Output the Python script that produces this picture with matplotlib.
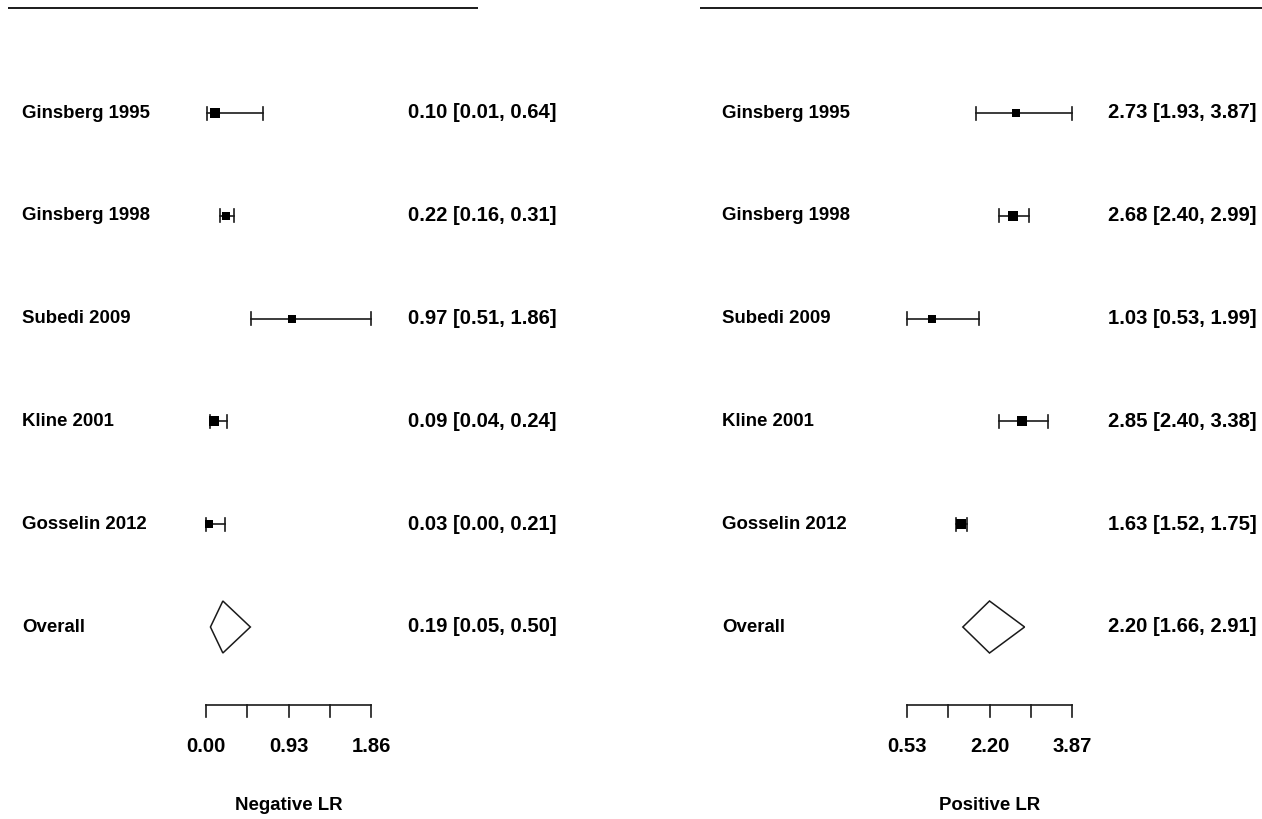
import matplotlib
matplotlib.use("Agg")
import matplotlib.pyplot as plt
import numpy as np

plt.rcParams['font.family'] = ['Liberation Sans', 'DejaVu Sans']

studies = ["Ginsberg 1995", "Ginsberg 1998", "Subedi 2009", "Kline 2001", "Gosselin 2012"]

neg_est = [0.10, 0.22, 0.97, 0.09, 0.03]
neg_lo = [0.01, 0.16, 0.51, 0.04, 0.00]
neg_hi = [0.64, 0.31, 1.86, 0.24, 0.21]
neg_overall = [0.19, 0.05, 0.50]
neg_ticks = [0.00, 0.465, 0.93, 1.395, 1.86]
neg_ticklabels = ["0.00", "", "0.93", "", "1.86"]
neg_weights = [9, 8, 8, 10, 8]

pos_est = [2.73, 2.68, 1.03, 2.85, 1.63]
pos_lo = [1.93, 2.40, 0.53, 2.40, 1.52]
pos_hi = [3.87, 2.99, 1.99, 3.38, 1.75]
pos_overall = [2.20, 1.66, 2.91]
pos_ticks = [0.53, 1.365, 2.20, 3.035, 3.87]
pos_ticklabels = ["0.53", "", "2.20", "", "3.87"]
pos_weights = [8, 9, 8, 9, 10]

W, H = 1262, 819
fig = plt.figure(figsize=(W / 100, H / 100), dpi=100)

# pixel layout of the rows (top of figure = 0)
row_px = 113
row_step = 102.8
n_rows = len(studies) + 1
y_top = n_rows + row_px / row_step
y_bot = y_top - H / row_step

def py(p):
    # figure pixel row -> data y
    return y_top - p / row_step


def panel(x0, x1, tick_px0, tick_px1, ticks, ticklabels, est, lo, hi, overall,
          weights, xlabel, line_px0, line_px1, label_px, ci_px):
    ax = fig.add_axes([x0 / W, 0, (x1 - x0) / W, 1])
    # map tick range onto the right pixels
    scale = (tick_px1 - tick_px0) / (ticks[-1] - ticks[0])
    xmin = ticks[0] - (tick_px0 - x0) / scale
    xmax = ticks[0] + (x1 - tick_px0) / scale
    ax.set_xlim(xmin, xmax)
    ax.set_ylim(y_bot, y_top)
    ax.axis('off')

    def px(p):
        return xmin + (p - x0) / scale

    fs = 13.4
    fs_ci = 14.6
    col = '#1a1a1a'
    # top rule
    ax.plot([px(line_px0), px(line_px1)], [py(8), py(8)], color=col, lw=1.4,
            solid_capstyle='butt', clip_on=False)

    cap = 6.5 / row_step
    for i, name in enumerate(studies):
        y = n_rows - i
        ax.plot([lo[i], hi[i]], [y, y], color=col, lw=1.2)
        ax.plot([lo[i], lo[i]], [y - cap, y + cap], color=col, lw=1.2)
        ax.plot([hi[i], hi[i]], [y - cap, y + cap], color=col, lw=1.2)
        ax.plot(est[i], y, marker='s', color='black', markersize=weights[i] * 0.78,
                markeredgewidth=0)
        ax.text(px(label_px), y, name, ha='left', va='center', fontsize=fs,
                fontweight='bold')
        ax.text(px(ci_px), y, "%.2f [%.2f, %.2f]" % (est[i], lo[i], hi[i]),
                ha='right', va='center', fontsize=fs_ci, fontweight='bold')

    # overall diamond
    y = 1
    dh = 26 / row_step
    ax.fill([overall[1], overall[0], overall[2], overall[0], overall[1]],
            [y, y + dh, y, y - dh, y], facecolor='white', edgecolor=col, lw=1.1)
    ax.text(px(label_px), y, "Overall", ha='left', va='center', fontsize=fs,
            fontweight='bold')
    ax.text(px(ci_px), y, "%.2f [%.2f, %.2f]" % tuple(overall),
            ha='right', va='center', fontsize=fs_ci, fontweight='bold')

    # x axis
    ya = py(705)
    tl = 12 / row_step
    ax.plot([ticks[0], ticks[-1]], [ya, ya], color=col, lw=1.2)
    for t, lab in zip(ticks, ticklabels):
        ax.plot([t, t], [ya, ya - tl], color=col, lw=1.2)
        if lab:
            ax.text(t, py(747), lab, ha='center', va='center', fontsize=fs_ci,
                    fontweight='bold')
    ax.text((ticks[0] + ticks[-1]) / 2, py(806), xlabel, ha='center', va='center',
            fontsize=fs, fontweight='bold')


panel(0, 631, 206, 371, neg_ticks, neg_ticklabels, neg_est, neg_lo, neg_hi,
      neg_overall, neg_weights, "Negative LR", 8, 478, 22, 557)
panel(631, 1262, 907, 1072, pos_ticks, pos_ticklabels, pos_est, pos_lo, pos_hi,
      pos_overall, pos_weights, "Positive LR", 700, 1262, 722, 1257)

fig.savefig("out.png", dpi=100, facecolor='white')
